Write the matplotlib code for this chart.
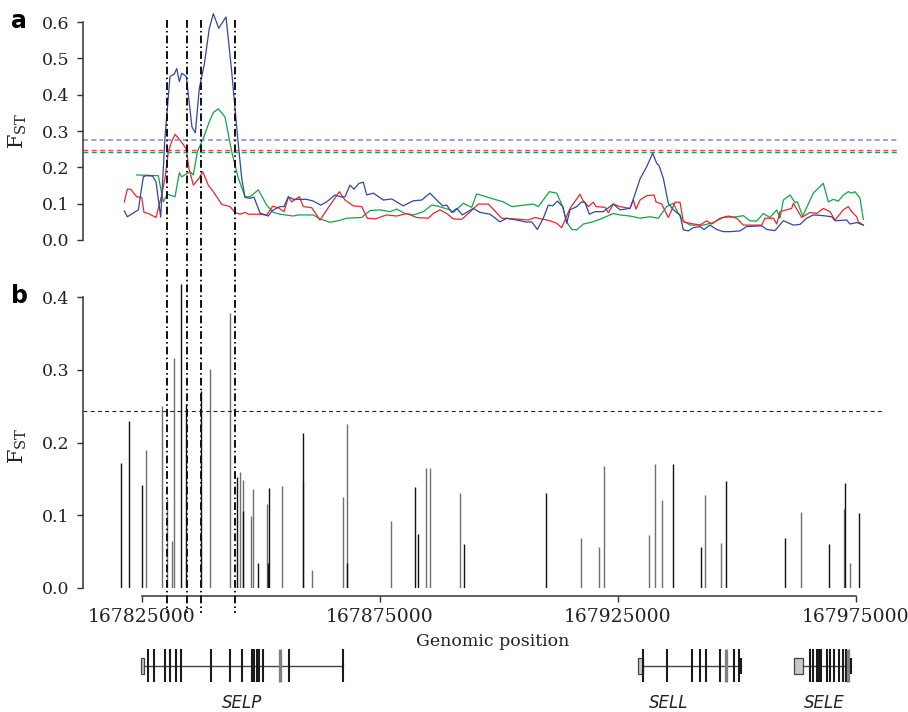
import numpy as np
import matplotlib
matplotlib.use("Agg")
from matplotlib import pyplot as plt, transforms as mtrans
from matplotlib.lines import Line2D
from matplotlib.patches import Rectangle

plt.rcParams['font.family'] = 'DejaVu Serif'
plt.rcParams['mathtext.fontset'] = 'dejavuserif'

# ---- panel a: sliding-window FST (positions in kb) ----
blue_kb = [167821.35, 167821.98, 167824.29, 167825.34, 167825.90, 167827.31, 167828.00, 167828.99,
           167829.89, 167830.94, 167831.85, 167832.35, 167832.90, 167833.40, 167834.37, 167834.87,
           167835.56, 167836.26, 167837.10, 167838.15, 167839.20, 167840.04, 167841.17, 167842.70,
           167843.90, 167845.16, 167846.00, 167846.69, 167847.74, 167848.58, 167849.84, 167851.59,
           167852.43, 167854.04, 167854.88, 167855.79, 167856.84, 167859.65, 167861.04, 167862.59,
           167863.85, 167865.59, 167867.00, 167867.69, 167868.74, 167869.58, 167870.63, 167871.54,
           167872.25, 167873.64, 167875.74, 167877.50, 167879.94, 167882.04, 167883.80, 167885.54,
           167886.95, 167888.21, 167889.05, 167890.10, 167891.15, 167892.33, 167894.64, 167896.04,
           167898.14, 167900.24, 167901.65, 167903.75, 167905.85, 167906.90, 167908.08, 167909.34,
           167910.39, 167911.31, 167912.28, 167913.41, 167914.25, 167914.94, 167916.35, 167917.40,
           167918.09, 167919.00, 167920.19, 167921.94, 167924.04, 167925.44, 167927.54, 167928.59,
           167929.64, 167931.05, 167932.31, 167933.15, 167933.63, 167934.54, 167935.59, 167936.64,
           167938.04, 167938.74, 167939.79, 167940.84, 167942.24, 167943.08, 167944.34, 167945.75,
           167947.14, 167948.54, 167950.64, 167952.05, 167955.20, 167956.25, 167958.00, 167959.74,
           167961.84, 167963.24, 167964.65, 167966.04, 167968.14, 167969.90, 167970.59, 167973.05,
           167973.74, 167975.15, 167976.54]
blue_fst = [0.080, 0.064, 0.083, 0.174, 0.177, 0.176, 0.160, 0.063,
            0.284, 0.450, 0.457, 0.472, 0.436, 0.459, 0.450, 0.390,
            0.311, 0.295, 0.418, 0.484, 0.583, 0.623, 0.583, 0.614,
            0.463, 0.280, 0.170, 0.117, 0.115, 0.118, 0.074, 0.066,
            0.081, 0.092, 0.092, 0.119, 0.112, 0.112, 0.107, 0.096,
            0.105, 0.124, 0.118, 0.119, 0.151, 0.140, 0.156, 0.159,
            0.124, 0.129, 0.110, 0.113, 0.094, 0.108, 0.110, 0.129,
            0.110, 0.094, 0.096, 0.076, 0.087, 0.069, 0.087, 0.076,
            0.071, 0.050, 0.060, 0.055, 0.049, 0.050, 0.029, 0.060,
            0.096, 0.094, 0.107, 0.092, 0.046, 0.083, 0.092, 0.105,
            0.103, 0.071, 0.078, 0.078, 0.099, 0.083, 0.087, 0.126,
            0.168, 0.202, 0.239, 0.211, 0.205, 0.170, 0.101, 0.083,
            0.069, 0.028, 0.025, 0.034, 0.037, 0.029, 0.041, 0.029,
            0.023, 0.023, 0.025, 0.037, 0.039, 0.029, 0.026, 0.053,
            0.041, 0.043, 0.060, 0.069, 0.067, 0.064, 0.053, 0.055,
            0.044, 0.048, 0.041]

red_kb = [167821.35, 167821.98, 167822.69, 167823.95, 167825.00, 167825.48, 167826.39, 167828.00,
          167829.20, 167829.89, 167830.59, 167831.30, 167831.99, 167833.04, 167834.30, 167834.93,
          167835.84, 167837.10, 167837.81, 167838.99, 167840.04, 167841.80, 167843.54, 167844.59,
          167845.64, 167846.69, 167847.39, 167849.49, 167851.25, 167852.51, 167853.69, 167854.88,
          167855.79, 167856.50, 167858.10, 167858.94, 167860.70, 167862.44, 167864.54, 167866.50,
          167867.69, 167869.44, 167871.20, 167872.38, 167873.99, 167876.45, 167878.55, 167880.65,
          167882.75, 167885.19, 167886.24, 167887.64, 167889.05, 167890.44, 167892.20, 167893.59,
          167895.69, 167897.79, 167900.60, 167904.44, 167906.19, 167907.59, 167909.34, 167910.74,
          167912.15, 167913.20, 167914.94, 167917.04, 167917.61, 167918.79, 167919.84, 167920.40,
          167922.29, 167922.99, 167924.04, 167925.44, 167927.54, 167928.24, 167928.80, 167929.64,
          167931.05, 167932.58, 167933.00, 167934.20, 167935.59, 167937.00, 167938.04, 167938.74,
          167940.14, 167942.24, 167943.65, 167944.70, 167946.44, 167948.19, 167949.95, 167951.34,
          167955.20, 167955.89, 167957.64, 167958.35, 167959.04, 167961.50, 167961.84, 167963.60,
          167965.34, 167966.75, 167968.14, 167969.54, 167970.59, 167972.34, 167973.39, 167974.10,
          167975.15, 167975.49, 167976.54]
red_fst = [0.105, 0.140, 0.140, 0.119, 0.117, 0.076, 0.073, 0.062,
           0.124, 0.170, 0.243, 0.271, 0.291, 0.275, 0.252, 0.197,
           0.151, 0.171, 0.188, 0.151, 0.133, 0.098, 0.092, 0.076,
           0.071, 0.076, 0.071, 0.071, 0.069, 0.093, 0.089, 0.078,
           0.118, 0.105, 0.119, 0.092, 0.089, 0.055, 0.096, 0.133,
           0.110, 0.094, 0.092, 0.060, 0.058, 0.069, 0.066, 0.073,
           0.062, 0.060, 0.073, 0.083, 0.073, 0.058, 0.057, 0.073,
           0.099, 0.099, 0.060, 0.057, 0.055, 0.062, 0.057, 0.053,
           0.046, 0.034, 0.087, 0.126, 0.110, 0.092, 0.104, 0.092,
           0.090, 0.075, 0.099, 0.092, 0.087, 0.110, 0.085, 0.110,
           0.122, 0.124, 0.105, 0.099, 0.062, 0.104, 0.104, 0.050,
           0.046, 0.041, 0.053, 0.044, 0.060, 0.066, 0.060, 0.041,
           0.041, 0.060, 0.060, 0.044, 0.078, 0.087, 0.101, 0.062,
           0.076, 0.073, 0.087, 0.078, 0.055, 0.083, 0.092, 0.078,
           0.064, 0.050, 0.041]

green_kb = [167823.95, 167828.49, 167829.54, 167830.38, 167831.99, 167832.90, 167833.40, 167835.14,
            167835.84, 167836.68, 167837.94, 167839.20, 167840.04, 167841.09, 167842.49, 167843.90,
            167845.29, 167846.69, 167847.74, 167849.49, 167851.25, 167852.64, 167854.04, 167856.84,
            167857.89, 167861.04, 167862.44, 167864.54, 167866.29, 167868.05, 167871.20, 167872.94,
            167875.04, 167877.14, 167878.55, 167880.29, 167882.04, 167884.14, 167885.90, 167886.95,
            167889.74, 167890.44, 167892.54, 167894.30, 167895.35, 167898.84, 167900.94, 167902.70,
            167907.24, 167908.29, 167910.60, 167912.15, 167913.41, 167914.25, 167915.30, 167916.35,
            167917.74, 167919.50, 167921.24, 167924.04, 167925.44, 167927.54, 167929.64, 167931.74,
            167933.49, 167935.25, 167936.64, 167937.69, 167938.74, 167940.14, 167942.94, 167945.04,
            167947.14, 167949.95, 167951.34, 167952.74, 167954.15, 167955.54, 167956.94, 167958.35,
            167959.04, 167959.74, 167961.14, 167962.19, 167962.68, 167963.81, 167966.04, 167968.14,
            167969.19, 167970.24, 167971.29, 167972.34, 167973.39, 167974.10, 167974.79, 167975.84,
            167976.54]
green_fst = [0.179, 0.177, 0.105, 0.126, 0.119, 0.185, 0.174, 0.188,
             0.179, 0.243, 0.280, 0.326, 0.351, 0.361, 0.339, 0.243,
             0.170, 0.119, 0.119, 0.138, 0.096, 0.076, 0.071, 0.066,
             0.069, 0.069, 0.058, 0.049, 0.053, 0.060, 0.062, 0.081,
             0.083, 0.078, 0.085, 0.073, 0.069, 0.078, 0.096, 0.094,
             0.083, 0.076, 0.101, 0.090, 0.127, 0.113, 0.105, 0.092,
             0.099, 0.092, 0.133, 0.129, 0.092, 0.050, 0.029, 0.028,
             0.044, 0.049, 0.057, 0.073, 0.069, 0.066, 0.060, 0.064,
             0.060, 0.092, 0.101, 0.073, 0.053, 0.041, 0.041, 0.048,
             0.062, 0.064, 0.067, 0.053, 0.052, 0.073, 0.062, 0.083,
             0.060, 0.110, 0.124, 0.103, 0.105, 0.066, 0.129, 0.156,
             0.105, 0.112, 0.107, 0.124, 0.133, 0.129, 0.133, 0.115,
             0.057]

# significance thresholds
thr_blue, thr_red, thr_green = 0.275, 0.248, 0.242
thr_snp = 0.244

# ---- panel b: per-SNP FST ----
snp_gray_kb = [167825.90, 167829.20, 167830.31, 167831.30, 167831.78, 167839.41, 167843.48, 167845.58,
               167846.27, 167847.95, 167848.37, 167851.25, 167854.40, 167858.94, 167860.76, 167867.21,
               167868.18, 167877.35, 167884.70, 167885.48, 167891.91, 167917.25, 167921.10, 167922.02,
               167931.53, 167932.73, 167934.26, 167943.29, 167946.65, 167963.39, 167972.42, 167973.74]
snp_gray_fst = [0.190, 0.250, 0.122, 0.065, 0.316, 0.301, 0.378, 0.159,
                0.148, 0.099, 0.136, 0.116, 0.140, 0.147, 0.025, 0.125,
                0.226, 0.092, 0.165, 0.165, 0.130, 0.069, 0.056, 0.168,
                0.073, 0.170, 0.121, 0.128, 0.062, 0.105, 0.109, 0.034]
snp_black_kb = [167820.65, 167822.40, 167825.06, 167833.32, 167834.37, 167837.45, 167844.95, 167846.27,
                167849.49, 167851.46, 167851.80, 167858.81, 167868.05, 167882.39, 167883.09, 167892.75,
                167909.90, 167936.64, 167942.39, 167947.77, 167960.16, 167969.40, 167972.76, 167975.70]
snp_black_fst = [0.172, 0.229, 0.142, 0.418, 0.253, 0.271, 0.153, 0.106,
                 0.034, 0.034, 0.137, 0.213, 0.034, 0.139, 0.074, 0.060,
                 0.130, 0.171, 0.056, 0.147, 0.069, 0.061, 0.144, 0.103]

# window boundaries (dash-dot)
bounds_kb = [167830.25, 167834.45, 167837.40, 167844.55]

xticks = [167825000, 167875000, 167925000, 167975000]

# ---- gene models (kb) ----
genes = {
    'SELP': dict(utr=(167824.85, 167825.55), end=167867.21, label=167846.06,
                 exons=[167826.26, 167827.52, 167829.89, 167830.94, 167832.20, 167833.32, 167839.62,
                        167843.61, 167846.13, 167848.16, 167848.65, 167849.21, 167849.70, 167850.41,
                        167856.00, 167867.21],
                 gray=[167853.98], short=[]),
    'SELL': dict(utr=(167929.29, 167930.34), end=167950.92, label=167935.73,
                 exons=[167930.34, 167935.31, 167940.50, 167942.18, 167943.50, 167946.44, 167949.43,
                        167950.50],
                 gray=[167947.64], short=[167950.92]),
    'SELE': dict(utr=(167962.05, 167963.94), end=167973.89, label=167968.28,
                 exons=[167965.34, 167966.04, 167966.81, 167967.30, 167967.72, 167968.85, 167969.54,
                        167970.38, 167971.50, 167972.34, 167972.90],
                 gray=[167973.39], short=[167973.89]),
}

col_blue, col_red, col_green = '#33479b', '#e8262f', '#15a24c'

W, H = 908, 712
fig = plt.figure(figsize=(W / 100, H / 100), dpi=100)


def px_box(left, top, right, bottom):
    return [left / W, 1 - bottom / H, (right - left) / W, (bottom - top) / H]


def bp(kb):
    return np.asarray(kb) * 1000.0


x_left = 167812670
ax_a = fig.add_axes(px_box(83, 7.5, 897, 240))
ax_b = fig.add_axes(px_box(83, 275.2, 882, 588))
ax_g = fig.add_axes(px_box(83, 640, 882, 712))

spine_col = '#333333'

# panel a
ax_a.plot(bp(green_kb), green_fst, color=col_green, lw=0.9)
ax_a.plot(bp(red_kb), red_fst, color=col_red, lw=0.9)
ax_a.plot(bp(blue_kb), blue_fst, color=col_blue, lw=0.9)
ax_a.axhline(thr_blue, color='#8893c6', lw=1.2, dashes=(3, 2))
ax_a.axhline(thr_red, color=col_red, lw=1.0, dashes=(3.5, 2.5), alpha=0.85)
ax_a.axhline(thr_green, color=col_green, lw=1.0, dashes=(3.5, 2.5))
ax_a.set_xlim(x_left, 167983610)
ax_a.set_ylim(0, 0.64)
ax_a.set_yticks(np.arange(0, 0.61, 0.1))
ax_a.set_yticklabels([f'{v:.1f}' for v in np.arange(0, 0.61, 0.1)])
ax_a.set_xticks([])
for s in ['top', 'right', 'bottom']:
    ax_a.spines[s].set_visible(False)
ax_a.spines['left'].set_bounds(0, 0.6)

# panel b
ax_b.vlines(bp(snp_gray_kb), 0, snp_gray_fst, color='#707070', lw=1.0)
ax_b.vlines(bp(snp_black_kb), 0, snp_black_fst, color='#111111', lw=1.0)
ax_b.axhline(thr_snp, color='#222222', lw=0.8, dashes=(3.5, 3))
ax_b.set_xlim(x_left, 167980460)
ax_b.set_ylim(0, 0.43)
ax_b.set_yticks(np.arange(0, 0.41, 0.1))
ax_b.set_yticklabels([f'{v:.1f}' for v in np.arange(0, 0.41, 0.1)])
ax_b.set_xticks(xticks)
ax_b.set_xticklabels([str(t) for t in xticks], fontsize=13.5)
for s in ['top', 'right']:
    ax_b.spines[s].set_visible(False)
ax_b.spines['left'].set_bounds(0, 0.4)
ax_b.spines['bottom'].set_position(('outward', 5.8))
ax_b.spines['bottom'].set_bounds(xticks[0], xticks[-1])

for ax in (ax_a, ax_b):
    ax.set_facecolor('none')
    for s in ax.spines.values():
        s.set_color(spine_col)
        s.set_linewidth(1.1)
    ax.tick_params(direction='out', length=4.5, width=1.0, color=spine_col,
                   labelsize=12.5, labelcolor='#222222', pad=5)
ax_b.tick_params(axis='x', labelsize=13.5, pad=4)

# window boundaries spanning both panels
tr = mtrans.blended_transform_factory(ax_b.transData, fig.transFigure)
for b in bounds_kb:
    fig.add_artist(Line2D([b * 1000, b * 1000], [1 - 20 / H, 1 - 613 / H], transform=tr,
                          color='#111111', lw=1.4, dashes=(4, 1.6, 0.8, 1.6)))

# gene track (y in pixel-like units, 0 at figure bottom)
ax_g.set_xlim(x_left, 167980460)
ax_g.set_ylim(0, 72)
ax_g.axis('off')
yc, eh, uh = 46.3, 16.6, 8.2
for name, g in genes.items():
    ax_g.plot([g['utr'][1] * 1000, g['end'] * 1000], [yc, yc], color='#444444', lw=1.0)
    ax_g.add_patch(Rectangle((g['utr'][0] * 1000, yc - uh), (g['utr'][1] - g['utr'][0]) * 1000,
                             2 * uh, facecolor='#c8c8c8', edgecolor='#444444', lw=0.9))
    ax_g.vlines(bp(g['exons']), yc - eh, yc + eh, color='#1a1a1a', lw=1.5)
    ax_g.vlines(bp(g['gray']), yc - eh, yc + eh, color='#808080', lw=2.4)
    ax_g.vlines(bp(g['short']), yc - uh, yc + uh, color='#1a1a1a', lw=1.5)
    ax_g.text(g['label'] * 1000, 9, name, ha='center', va='center', fontsize=12,
              family='DejaVu Sans', style='italic', color='#222222')

# labels
fig.text(493 / W, 1 - 642 / H, 'Genomic position', ha='center', va='center', fontsize=12.5,
         color='#222222')
for yc_px in (131, 446):
    fig.text(18 / W, 1 - yc_px / H, r'$\mathrm{F}_{\mathrm{ST}}$', rotation=90, ha='center',
             va='center', fontsize=15, color='#222222')
fig.text(11 / W, 1 - 28 / H, 'a', fontsize=17, fontweight='bold', family='DejaVu Sans',
         va='baseline', ha='left')
fig.text(11 / W, 1 - 303 / H, 'b', fontsize=17, fontweight='bold', family='DejaVu Sans',
         va='baseline', ha='left')

fig.savefig('out.png', dpi=100)
